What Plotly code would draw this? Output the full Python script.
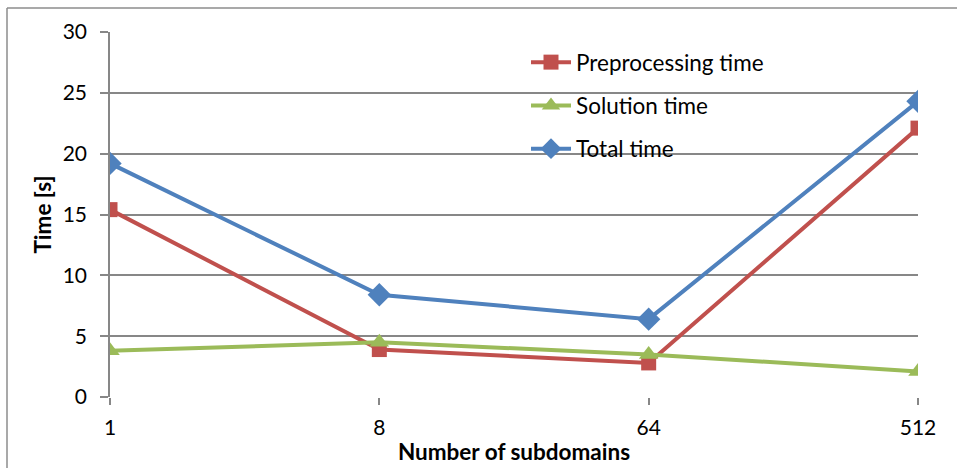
import plotly.graph_objects as go

categories = ["1", "8", "64", "512"]
preprocessing = [15.4, 3.9, 2.8, 22.1]
solution = [3.8, 4.5, 3.5, 2.1]
total = [19.2, 8.4, 6.4, 24.3]

W, H = 957, 468
L, R, T, B = 110, 39, 32, 71
pw, ph = W - L - R, H - T - B

font = "Lato, 'Open Sans', sans-serif"

fig = go.Figure()
fig.add_trace(go.Scatter(x=categories, y=preprocessing, name="Preprocessing time",
                         mode="lines+markers", legendgroup="a",
                         line=dict(color="#C0504D", width=4),
                         marker=dict(symbol="square", size=15, color="#C0504D")))
fig.add_trace(go.Scatter(x=categories, y=solution, name="Solution time",
                         mode="lines+markers", legendgroup="b",
                         line=dict(color="#9BBB59", width=4),
                         marker=dict(symbol="triangle-up", size=17, color="#9BBB59")))
fig.add_trace(go.Scatter(x=categories, y=total, name="Total time",
                         mode="lines+markers", legendgroup="c",
                         line=dict(color="#4F81BD", width=4),
                         marker=dict(symbol="diamond", size=18, color="#4F81BD")))

def px(x):
    return (x - L) / pw

def py(y):
    return (H - B - y) / ph

# outer chart border (top and left edges visible)
fig.add_shape(type="line", xref="paper", yref="paper",
              x0=px(7), x1=px(960), y0=py(8), y1=py(8),
              line=dict(color="#8C8C8C", width=1.5))
fig.add_shape(type="line", xref="paper", yref="paper",
              x0=px(7), x1=px(7), y0=py(8), y1=py(470),
              line=dict(color="#8C8C8C", width=1.5))

fig.update_layout(
    width=W, height=H,
    margin=dict(l=L, r=R, t=T, b=B),
    paper_bgcolor="white", plot_bgcolor="white",
    font=dict(family=font, size=21, color="#000000"),
    showlegend=True,
    legend=dict(x=px(526), y=py(41), xanchor="left", yanchor="top",
                bgcolor="rgba(0,0,0,0)", font=dict(size=22.5),
                tracegroupgap=11, itemwidth=40),
    xaxis=dict(type="category", range=[0, 3], showgrid=False, automargin=False,
               showline=False, zeroline=False,
               ticks="outside", ticklen=7, tickcolor="#878787", tickwidth=1.5,
               tickfont=dict(size=21), ticklabelstandoff=5,
               title=dict(text="<b>Number of subdomains</b>", font=dict(size=22.5), standoff=6)),
    yaxis=dict(range=[0, 30], dtick=5, showgrid=True, gridcolor="#878787", gridwidth=1.5,
               automargin=False,
               showline=True, linecolor="#878787", linewidth=1.5, zeroline=False,
               ticks="outside", ticklen=8, tickcolor="#878787", tickwidth=1.5,
               tickfont=dict(size=21), ticklabelstandoff=9,
               title=dict(text="<b>Time [s]</b>", font=dict(size=22.5), standoff=5)),
)

fig.write_html("out.html")
